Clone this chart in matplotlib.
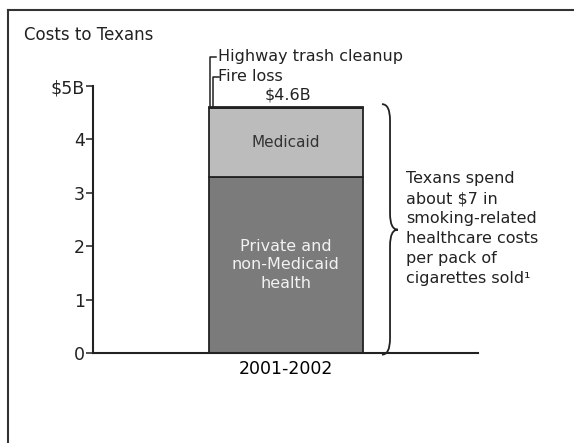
import matplotlib.pyplot as plt
from matplotlib.path import Path
from matplotlib.patches import PathPatch
from matplotlib.lines import Line2D

plt.rcParams['font.family'] = 'DejaVu Sans'

# data ($ billions, 2001-2002)
period = ['2001-2002']
private_health = [3.30]
medicaid = [1.28]
fire_loss = [0.013]
highway_trash = [0.007]
total_label = '$4.6B'
yticks = [0, 1, 2, 3, 4, 5]
ytick_labels = ['0', '1', '2', '3', '4', '$5B']
note = 'Texans spend\nabout $7 in\nsmoking-related\nhealthcare costs\nper pack of\ncigarettes sold\u00b9'

fig = plt.figure(figsize=(5.74, 4.43), dpi=100)
ax = fig.add_axes([93/574, 90/443, 385/574, 267/443])

x = [0]
ax.bar(x, private_health, width=0.8, color='#7b7b7b', edgecolor='#222222', linewidth=1.3)
b2 = [p for p in private_health]
ax.bar(x, medicaid, width=0.8, bottom=b2, color='#bcbcbc', edgecolor='#222222', linewidth=1.3)
b3 = [p + m for p, m in zip(private_health, medicaid)]
ax.bar(x, fire_loss, width=0.8, bottom=b3, color='#444444', edgecolor='#222222', linewidth=1.3)
b4 = [b + f for b, f in zip(b3, fire_loss)]
ax.bar(x, highway_trash, width=0.8, bottom=b4, color='#444444', edgecolor='#222222', linewidth=1.3)
top = b4[0] + highway_trash[0]

ax.set_xlim(-1, 1)
ax.set_ylim(0, 5)
ax.set_yticks(yticks)
ax.set_yticklabels(ytick_labels, fontsize=12.5)
ax.set_xticks(x)
ax.set_xticklabels(period, fontsize=12.5)
ax.tick_params(axis='x', length=0, pad=5)
ax.tick_params(axis='y', length=5, width=1.1, pad=1, colors='#222222')
ax.spines['top'].set_visible(False)
ax.spines['right'].set_visible(False)
ax.spines['left'].set_linewidth(1.5)
ax.spines['bottom'].set_linewidth(1.5)
ax.spines['left'].set_color('#222222')
ax.spines['bottom'].set_color('#222222')

# segment labels
ax.text(0, private_health[0] + medicaid[0] / 2, 'Medicaid', ha='center', va='center',
        fontsize=11, color='#333333')
ax.text(0, private_health[0] / 2, 'Private and\nnon-Medicaid\nhealth', ha='center', va='center',
        fontsize=11.5, color='#f2f2f2', linespacing=1.3)
ax.text(0.015, top + 0.1, total_label, ha='center', va='bottom', fontsize=11.5, color='#222222')

# small segment callouts
xl = -0.4 + 0.01
ax.plot([xl, xl, xl + 0.03], [top, 5.55, 5.55], color='#222222', lw=1.1, clip_on=False)
ax.text(xl + 0.04, 5.55, 'Highway trash cleanup', va='center', ha='left', fontsize=11.5, color='#222222')
xl2 = xl + 0.015
ax.plot([xl2, xl2, xl2 + 0.03], [top, 5.17, 5.17], color='#222222', lw=1.1, clip_on=False)
ax.text(xl2 + 0.025, 5.17, 'Fire loss', va='center', ha='left', fontsize=11.5, color='#222222')

# curly brace
x0, xm, xt = 0.501, 0.543, 0.584
y0, y1 = 4.66, -0.03
ym = 2.31
r = 0.3
verts = [(x0, y0), (xm, y0), (xm, y0 - r), (xm, ym + r), (xm, ym), (xt, ym),
         (xm, ym), (xm, ym - r), (xm, y1 + r), (xm, y1), (x0, y1)]
codes = [Path.MOVETO, Path.CURVE3, Path.CURVE3, Path.LINETO, Path.CURVE3, Path.CURVE3,
         Path.CURVE3, Path.CURVE3, Path.LINETO, Path.CURVE3, Path.CURVE3]
ax.add_patch(PathPatch(Path(verts, codes), fill=False, lw=1.3, edgecolor='#222222', clip_on=False))
ax.text(0.626, 2.33, note, ha='left', va='center', fontsize=11.5, color='#222222', linespacing=1.42)

# title and frame
fig.text(24/574, 1 - 35/443, 'Costs to Texans', ha='left', va='center', fontsize=12, color='#222222')
fig.add_artist(Line2D([8/574, 8/574], [0, 1 - 10/443], color='#333333', lw=1.5))
fig.add_artist(Line2D([8/574, 1], [1 - 10/443, 1 - 10/443], color='#333333', lw=1.5))

fig.savefig('out.png', dpi=100)
